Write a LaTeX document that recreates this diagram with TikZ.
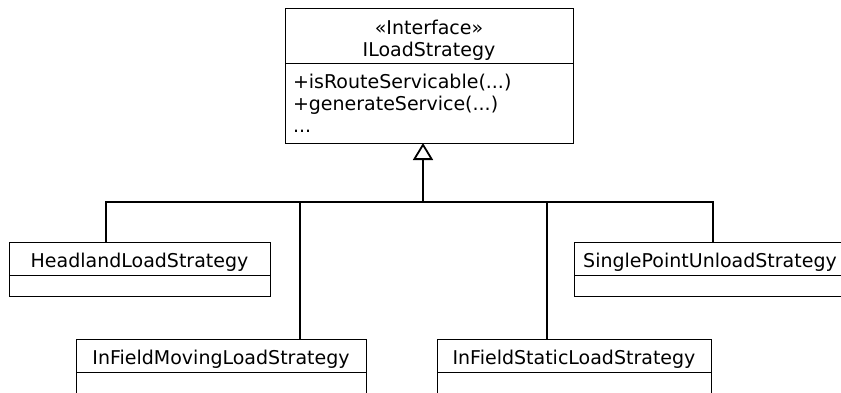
\documentclass[tikz,border=0pt]{standalone}
\usepackage{fontspec}
\setmainfont{DejaVu Sans}
\usetikzlibrary{arrows.meta, positioning}
\tikzset{
	line width = .6pt,
	font = \fontsize{9.5}{11}\selectfont,
	classname/.style={
		draw,
		outer sep=0pt,
		inner sep=0pt,
		text height=10.5pt,
		text depth=2pt,
		minimum width=#1,
		minimum height=16.5pt
	},
	classbody/.style={
		draw,
		outer sep=0pt,
		inner sep=0pt,
		minimum width=#1,
		minimum height=10.5pt
	},
	edge/.style={
		line width=.6pt
	},
	implements/.style={
		-{Triangle[open, length=8.5pt, width=10pt]},
		line width=.9pt
	}
}

\begin{document}
\begin{tikzpicture}[x=0.5pt, y=-0.5pt]
		\useasboundingbox (0,0) rectangle (841,392);
		\clip (0,0) rectangle (841,392);

		% interface
		\node[draw, outer sep=0pt, inner sep=0pt, minimum width=144pt, minimum height=27.5pt, align=center] at (429,35.5) (iface) {\rule{0pt}{12pt}«Interface»\\ILoadStrategy};
		\node[classbody=144pt, minimum height=40pt, below=0pt of iface, text width=136pt, inner xsep=4pt, align=left] (ifacebody) {+isRouteServicable(...)\\+generateService(...)\\...};

		% strategies
		\node[classname=130.5pt] at (139.5,258.5) (headland) {HeadlandLoadStrategy};
		\node[classbody=130.5pt, below=0pt of headland] (headlandbody) {};
		\node[classname=145pt] at (221,355.5) (moving) {InFieldMovingLoadStrategy};
		\node[classbody=145pt, below=0pt of moving] (movingbody) {};
		\node[classname=137pt] at (574,355.5) (static) {InFieldStaticLoadStrategy};
		\node[classbody=137pt, below=0pt of static] (staticbody) {};
		\node[classname=136pt] at (710,258.5) (single) {SinglePointUnloadStrategy};
		\node[classbody=136pt, below=0pt of single] (singlebody) {};

		\coordinate (hub) at (423,202);

		\draw[edge] ([xshift=-16.75pt]headland.north) |- (hub);
		\draw[edge] ([xshift=39.5pt]moving.north) |- (hub);
		\draw[edge] ([xshift=-13.5pt]static.north) |- (hub);
		\draw[edge] ([xshift=1.5pt]single.north) |- (hub);
		\draw[implements] (hub) -- ([xshift=-3pt]ifacebody.south);
	\end{tikzpicture}
\end{document}
